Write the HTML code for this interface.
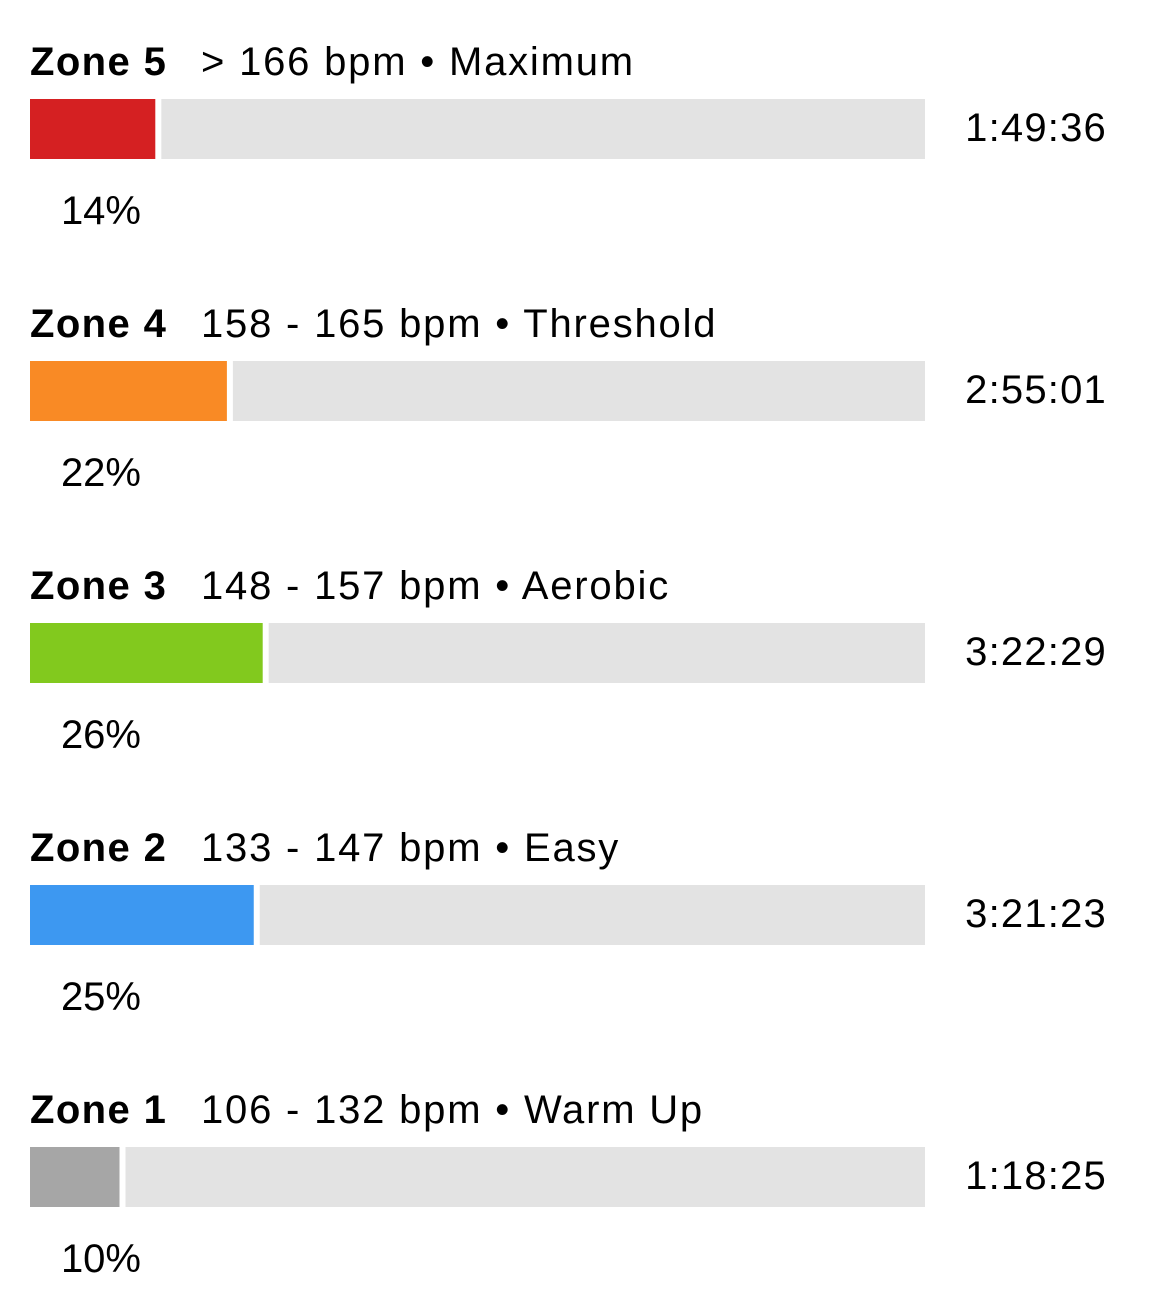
<!DOCTYPE html>
<html><head><meta charset="utf-8"><style>
html,body{margin:0;padding:0;background:#fff;}
svg{display:block;font-family:"Liberation Sans","DejaVu Sans",sans-serif;}
</style></head><body>
<svg id="chart" width="1173" height="1310" viewBox="0 0 1173 1310"></svg>
<script>
const zoneNames = ["Zone 5","Zone 4","Zone 3","Zone 2","Zone 1"];
const zoneRanges = ["> 166 bpm • Maximum","158 - 165 bpm • Threshold","148 - 157 bpm • Aerobic","133 - 147 bpm • Easy","106 - 132 bpm • Warm Up"];
const percents = [14,22,26,25,10];
const times = ["1:49:36","2:55:01","3:22:29","3:21:23","1:18:25"];
const colors = ["#d52022","#f98a25","#82c91e","#3d98f1","#a6a6a6"];

const svg = document.getElementById('chart');
const NS = "http://www.w3.org/2000/svg";
const X0 = 30, X1 = 925, ROW = 262, GAP = 6;
const xScale = p => (X1 - X0) * p / 100;
function mk(tag, attrs, text){
  const e = document.createElementNS(NS, tag);
  for (const k in attrs) e.setAttribute(k, attrs[k]);
  if (text !== undefined) e.textContent = text;
  svg.appendChild(e); return e;
}
zoneNames.forEach((z, i) => {
  const y = i * ROW;
  const t = mk('text', {x: X0, y: y + 75, 'font-size': 40, 'font-weight': 'bold', 'letter-spacing': 1.4, fill: '#000'}, z);
  
  
  const r = mk('text', {x: 201, y: y + 75, 'font-size': 40, 'letter-spacing': 1.8, fill: '#000'}, zoneRanges[i]);
  
  
  const w = xScale(percents[i]);
  const bar = mk('rect', {x: X0, y: y + 99, width: w, height: 60, fill: colors[i]});
  
  
  const bg = mk('rect', {x: X0 + w + GAP, y: y + 99, width: X1 - (X0 + w + GAP), height: 60, fill: '#e3e3e3'});
  
  
  const tm = mk('text', {x: 1107, y: y + 141, 'font-size': 40, 'letter-spacing': 1.2, 'text-anchor': 'end', fill: '#000'}, times[i]);
  
  
  const pc = mk('text', {x: 141, y: y + 224, 'font-size': 40, 'text-anchor': 'end', fill: '#000'}, percents[i] + '%');
  
  
});
</script>
</body></html>
